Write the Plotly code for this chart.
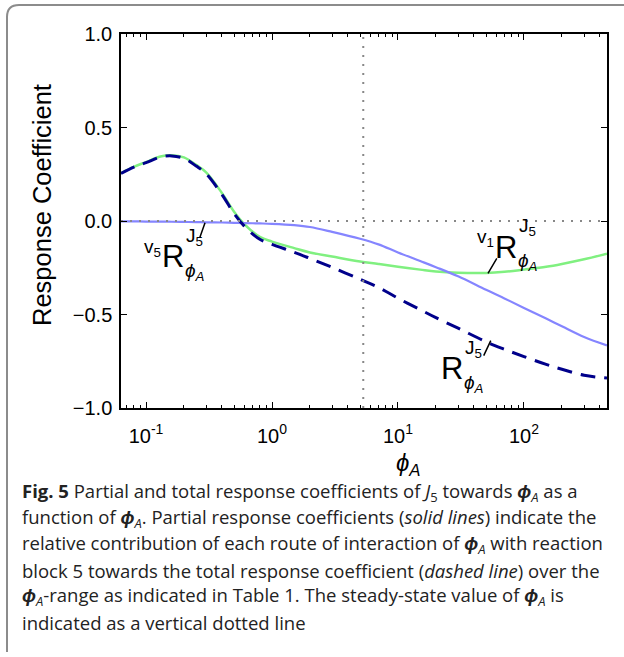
import math
import plotly.graph_objects as go

# phi_A values (log axis) and response coefficients
phi = [0.0633, 0.08, 0.1, 0.13, 0.16, 0.2, 0.25, 0.3, 0.4, 0.5, 0.6, 0.8, 1.0,
       1.5, 2, 3, 5, 7, 10, 15, 20, 30, 50, 70, 100, 150, 200, 300, 456]
r_v1 = [0.256, 0.29, 0.315, 0.345, 0.352, 0.34, 0.30, 0.26, 0.15, 0.05, -0.015,
        -0.085, -0.11, -0.145, -0.168, -0.19, -0.217, -0.23, -0.245, -0.26,
        -0.27, -0.277, -0.278, -0.272, -0.26, -0.245, -0.23, -0.205, -0.175]
r_v5 = [-0.002, -0.002, -0.003, -0.003, -0.004, -0.005, -0.006, -0.007, -0.008,
        -0.01, -0.011, -0.013, -0.015, -0.022, -0.032, -0.058, -0.095, -0.125,
        -0.168, -0.214, -0.247, -0.296, -0.368, -0.414, -0.465, -0.522, -0.563,
        -0.62, -0.665]
r_total = [0.254, 0.288, 0.312, 0.342, 0.348, 0.335, 0.294, 0.253, 0.142, 0.04,
           -0.026, -0.098, -0.125, -0.167, -0.2, -0.248, -0.312, -0.355, -0.413,
           -0.474, -0.517, -0.573, -0.646, -0.686, -0.725, -0.767, -0.793, -0.825,
           -0.84]
phi_steady = 5.3

xtick_vals = [0.1, 1, 10, 100]
xtick_text = ['10<sup>-1</sup>', '10<sup>0</sup>', '10<sup>1</sup>', '10<sup>2</sup>']
ytick_vals = [1.0, 0.5, 0.0, -0.5, -1.0]
ytick_text = ['1.0', '0.5', '0.0', '\u22120.5', '\u22121.0']

W, H = 624, 657
L, R, T, B = 121, 17, 34, 249
pw, ph = W - L - R, H - T - B

def px(x):
    return (x - L) / pw

def py(y):
    return (H - B - y) / ph

FONT = 'Liberation Sans, Arial, sans-serif'
CAP = 'Open Sans, sans-serif'

fig = go.Figure()
fig.add_trace(go.Scatter(x=phi, y=r_v1, mode='lines', line=dict(color='#80f080', width=2.5, shape='spline')))
fig.add_trace(go.Scatter(x=phi, y=r_v5, mode='lines', line=dict(color='#8585ff', width=2.2, shape='spline')))
fig.add_trace(go.Scatter(x=phi, y=r_total, mode='lines',
                         line=dict(color='#00008b', width=3, dash='15px,9px', shape='spline')))
# steady state and zero reference lines
fig.add_trace(go.Scatter(x=[phi_steady, phi_steady], y=[-1, 1], mode='lines',
                         line=dict(color='#888888', width=2, dash='2px,7px')))
fig.add_trace(go.Scatter(x=[phi[0], phi[-1]], y=[0, 0], mode='lines',
                         line=dict(color='#888888', width=2, dash='2px,7px')))

ann = []

def coef_label(x, y, pre):
    lx = math.log10(x)
    ann.append(dict(x=lx, y=y, text='R', font=dict(size=31)))
    if pre:
        ann.append(dict(x=lx, y=y, text=pre, xanchor='right', xshift=-10, yshift=9,
                        font=dict(size=19)))
    ann.append(dict(x=lx, y=y, text='J<sub>5</sub>', xanchor='left', xshift=11, yshift=20,
                    font=dict(size=19)))
    ann.append(dict(x=lx, y=y, text='<i>\u03d5</i><sub><i>A</i></sub>', xanchor='left', xshift=10,
                    yshift=-15, font=dict(size=19)))

coef_label(0.165, -0.19, 'v<sub>5</sub>')
coef_label(72.0, -0.14, 'v<sub>1</sub>')
coef_label(27.0, -0.79, None)

# leader lines
for x, y, axp, ayp in [(0.294, -0.01, -6, 17), (51.8, -0.28, 10, -17), (54.5, -0.64, -8, 17)]:
    ann.append(dict(x=math.log10(x), y=y, text=' ', showarrow=True, arrowhead=0, arrowwidth=1.5,
                    arrowcolor='black', ax=axp, ay=ayp, font=dict(size=1), standoff=0))

for a in ann:
    a.setdefault('xref', 'x')
    a.setdefault('yref', 'y')
    a.setdefault('showarrow', False)
    a.setdefault('yanchor', 'middle')
    a.setdefault('xanchor', 'center')
    a['font'].update(family=FONT, color='black')

# axis titles
ann.append(dict(xref='paper', yref='paper', x=px(42), y=py(205), text='Response Coefficient',
                textangle=-90, showarrow=False, xanchor='center', yanchor='middle',
                font=dict(size=25.5, family=FONT, color='black')))
ann.append(dict(xref='paper', yref='paper', x=px(408), y=py(464), text='<i>\u03d5</i><sub><i>A</i></sub>',
                showarrow=False, xanchor='center', yanchor='middle',
                font=dict(size=24, family=FONT, color='black')))

caption = [
    '<b>Fig. 5</b> Partial and total response coefficients of <i>J</i><sub>5</sub> towards '
    '<b><i>\u03d5</i></b><sub><i>A</i></sub> as a',
    'function of <b><i>\u03d5</i></b><sub><i>A</i></sub>. Partial response coefficients '
    '(<i>solid lines</i>) indicate the',
    'relative contribution of each route of interaction of <b><i>\u03d5</i></b><sub><i>A</i></sub> with reaction',
    'block 5 towards the total response coefficient (<i>dashed line</i>) over the',
    '<b><i>\u03d5</i></b><sub><i>A</i></sub>-range as indicated in Table 1. The steady-state value of '
    '<b><i>\u03d5</i></b><sub><i>A</i></sub> is',
    'indicated as a vertical dotted line',
]
for i, line in enumerate(caption):
    ann.append(dict(xref='paper', yref='paper', x=px(20), y=py(492 + 26 * i), text=line,
                    xanchor='left', yanchor='middle', showarrow=False,
                    font=dict(size=18.5, family=CAP, color='#222222')))

fig.update_layout(
    width=W, height=H,
    margin=dict(l=L, r=R, t=T, b=B),
    paper_bgcolor='white', plot_bgcolor='white',
    showlegend=False,
    annotations=ann,
    shapes=[dict(type='path', xref='paper', yref='paper',
                 path='M %f,%f L %f,%f Q %f,%f %f,%f L %f,%f' % (
                     px(7), py(652), px(7), py(17), px(7), py(5), px(19), py(5), px(640), py(5)),
                 line=dict(color='#8c8c8c', width=2))],
)
fig.update_xaxes(type='log', range=[math.log10(phi[0]), math.log10(phi[-1])],
                 tickvals=xtick_vals, ticktext=xtick_text,
                 showline=True, linecolor='black', linewidth=1.5, mirror='ticks',
                 ticks='inside', ticklen=6, tickwidth=1.2, tickcolor='black',
                 minor=dict(ticks='inside', ticklen=3, dtick='D1', tickcolor='black', tickwidth=1),
                 showgrid=False, zeroline=False, ticklabelstandoff=9,
                 tickfont=dict(size=20, family=FONT, color='black'))
fig.update_yaxes(range=[-1, 1], tickvals=ytick_vals, ticktext=ytick_text,
                 showline=True, linecolor='black', linewidth=1.5, mirror='ticks',
                 ticks='inside', ticklen=6, tickwidth=1.2, tickcolor='black',
                 showgrid=False, zeroline=False, ticklabelstandoff=3,
                 tickfont=dict(size=20, family=FONT, color='black'))

fig.write_html('out.html', config={'displayModeBar': False},
               post_script="document.body.style.margin='0px';")
